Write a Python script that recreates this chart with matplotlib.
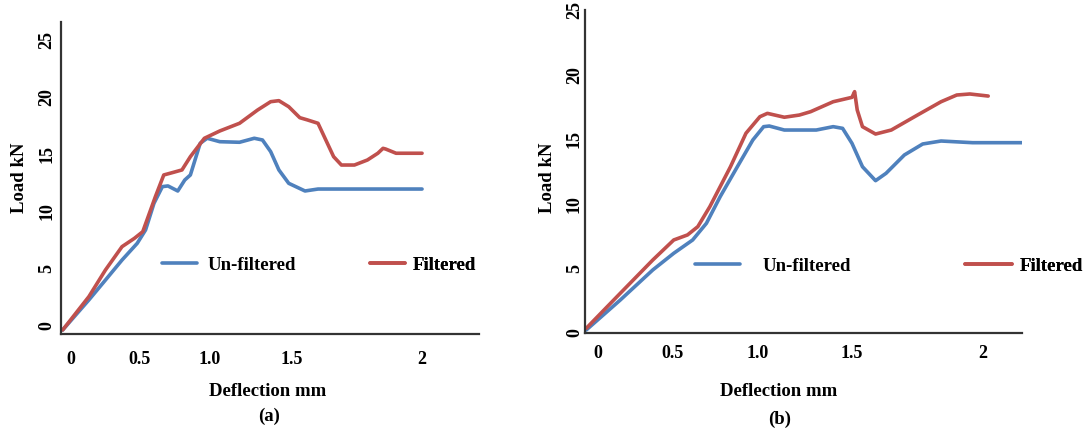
import matplotlib
matplotlib.use("Agg")
import matplotlib.pyplot as plt
import numpy as np

# ---- data (deflection mm, load kN) ----
a_unf_x = [-0.06, 0.13, 0.25, 0.37, 0.48, 0.54, 0.60, 0.66, 0.70, 0.77, 0.82, 0.86, 0.93,
           0.98, 1.06, 1.18, 1.27, 1.32, 1.37, 1.42, 1.48, 1.55, 1.60, 2.00]
a_unf_y = [-0.37, 2.26, 4.00, 5.75, 7.21, 8.38, 10.71, 12.17, 12.23, 11.79, 12.75, 13.19, 15.96,
           16.40, 16.10, 16.05, 16.40, 16.25, 15.23, 13.63, 12.46, 11.79, 11.96, 11.96]
a_fil_x = [-0.06, 0.13, 0.25, 0.37, 0.46, 0.52, 0.61, 0.67, 0.73, 0.80, 0.86, 0.96, 1.06,
           1.18, 1.29, 1.37, 1.42, 1.48, 1.53, 1.56, 1.60, 1.63, 1.66, 1.69, 1.74, 1.79, 1.83,
           1.85, 1.86, 1.90, 2.00]
a_fil_y = [-0.37, 2.55, 4.88, 6.92, 7.65, 8.23, 11.29, 13.19, 13.39, 13.63, 14.79, 16.40, 17.04,
           17.71, 18.87, 19.60, 19.69, 19.16, 18.20, 18.00, 17.71, 16.25, 14.79, 14.06, 14.06,
           14.50, 15.09, 15.52, 15.46, 15.09, 15.09]

b_unf_x = [-0.08, 0.15, 0.37, 0.51, 0.62, 0.70, 0.78, 0.88, 0.97, 1.03, 1.06, 1.14, 1.22, 1.31,
           1.40, 1.45, 1.50, 1.54, 1.59, 1.63, 1.70, 1.77, 1.84, 1.96, 2.15]
b_unf_y = [0.23, 2.55, 4.88, 6.17, 7.20, 8.49, 10.55, 12.87, 14.94, 15.97, 16.02, 15.71, 15.71,
           15.71, 15.97, 15.84, 14.68, 12.87, 11.79, 12.36, 13.78, 14.63, 14.86, 14.73, 14.73]
b_fil_x = [-0.08, 0.15, 0.37, 0.51, 0.59, 0.65, 0.72, 0.84, 0.93, 1.01, 1.05, 1.14, 1.22, 1.28,
           1.40, 1.50, 1.51, 1.52, 1.54, 1.59, 1.65, 1.75, 1.84, 1.90, 1.95, 2.02]
b_fil_y = [0.36, 3.07, 5.65, 7.20, 7.59, 8.23, 9.78, 12.87, 15.46, 16.74, 17.00, 16.70, 16.87,
           17.13, 17.90, 18.24, 18.68, 17.26, 15.97, 15.40, 15.71, 16.87, 17.90, 18.42, 18.50,
           18.34]

x_ticks = [0, 0.5, 1.0, 1.5, 2]
x_tick_labels = ["0", "0.5", "1.0", "1.5", "2"]
y_ticks = [0, 5, 10, 15, 20, 25]
y_tick_labels = ["0", "5", "10", "15", "20", "25"]
series_labels = ["Un-filtered", "Filtered"]

BLUE = "#4f81bd"
RED = "#c0504d"
W, H = 1088, 433

plt.rcParams["font.family"] = ["Liberation Serif", "DejaVu Serif"]
plt.rcParams["font.weight"] = "bold"


def tick_warp(anchor_pos):
    # the printed x ticks are not evenly spaced: piecewise-linear scale through them
    vals = np.array(x_ticks, float)
    pos = np.array(anchor_pos, float)
    s0 = (pos[1] - pos[0]) / (vals[1] - vals[0])
    s1 = (pos[-1] - pos[-2]) / (vals[-1] - vals[-2])

    def fwd(x):
        x = np.asarray(x, float)
        out = np.interp(x, vals, pos)
        out = np.where(x < vals[0], pos[0] + (x - vals[0]) * s0, out)
        return np.where(x > vals[-1], pos[-1] + (x - vals[-1]) * s1, out)

    def inv(p):
        p = np.asarray(p, float)
        out = np.interp(p, pos, vals)
        out = np.where(p < pos[0], vals[0] + (p - pos[0]) / s0, out)
        return np.where(p > pos[-1], vals[-1] + (p - pos[-1]) / s1, out)

    return fwd, inv


def add_key(ax, fig, line, label, x_px, y_px, handle_px, pad_px):
    fs_px = 13.5 * 100 / 72
    leg = ax.legend([line], [label], loc="center left",
                    bbox_to_anchor=(x_px / W, 1 - y_px / H), bbox_transform=fig.transFigure,
                    frameon=False, borderpad=0, borderaxespad=0,
                    handlelength=handle_px / fs_px, handletextpad=pad_px / fs_px,
                    prop={"size": 13.5, "weight": "bold"})
    ax.add_artist(leg)


def panel(fig, rect, ux, uy, fx, fy, anchors, xlim, ylim, xpad, ypad, keys, xlab_pos, ylab_pos):
    ax = fig.add_axes(rect)
    fwd, inv = tick_warp(anchors)
    ax.set_xscale("function", functions=(fwd, inv))
    l1, = ax.plot(ux, uy, color=BLUE, lw=2.6, solid_joinstyle="round", solid_capstyle="round")
    l2, = ax.plot(fx, fy, color=RED, lw=2.6, solid_joinstyle="round", solid_capstyle="round")
    ax.set_xlim(xlim)
    ax.set_ylim(ylim)
    ax.set_xticks(x_ticks, x_tick_labels)
    ax.set_yticks(y_ticks, y_tick_labels)
    ax.minorticks_off()
    ax.tick_params(axis="x", length=0, pad=xpad, labelsize=13)
    ax.tick_params(axis="y", length=0, pad=ypad, labelsize=13)
    for t in ax.get_yticklabels():
        t.set_rotation(90)
        t.set_va("center")
    for s in ["top", "right"]:
        ax.spines[s].set_visible(False)
    for s in ["left", "bottom"]:
        ax.spines[s].set_color("#333333")
        ax.spines[s].set_linewidth(1.6)
    ax.set_xlabel("Deflection mm", fontsize=13.5, fontweight="bold", va="center")
    ax.xaxis.set_label_coords(*xlab_pos)
    ax.set_ylabel("Load kN", fontsize=13.5, fontweight="bold", va="center")
    ax.yaxis.set_label_coords(*ylab_pos)
    for line, label, (kx, ky, hl, pad) in zip([l1, l2], series_labels, keys):
        add_key(ax, fig, line, label, kx, ky, hl, pad)
    return ax


fig = plt.figure(figsize=(W / 100, H / 100), dpi=100)

panel(fig, [61 / W, 99 / H, 418 / W, 312 / H],
      a_unf_x, a_unf_y, a_fil_x, a_fil_y,
      anchors=[71, 140, 210, 292, 422], xlim=(-0.072, 2.219), ylim=(-0.72, 26.57),
      xpad=12, ypad=4,
      keys=[(162, 265, 35, 11), (370, 265, 35, 8)],
      xlab_pos=(0.494, -0.183), ylab_pos=(-0.099, 0.5))

panel(fig, [585 / W, 100 / H, 437 / W, 323 / H],
      b_unf_x, b_unf_y, b_fil_x, b_fil_y,
      anchors=[598, 672, 758, 852, 983], xlim=(-0.088, 2.149), ylim=(0, 25),
      xpad=9, ypad=1.5,
      keys=[(695, 266, 45, 23), (965, 266, 47, 8)],
      xlab_pos=(0.442, -0.181), ylab_pos=(-0.085, 0.48))

fig.text(269 / W, 1 - 416 / H, "(a)", ha="center", va="center", fontsize=13.5, fontweight="bold")
fig.text(780 / W, 1 - 419 / H, "(b)", ha="center", va="center", fontsize=13.5, fontweight="bold")

fig.savefig("out.png", dpi=100)
